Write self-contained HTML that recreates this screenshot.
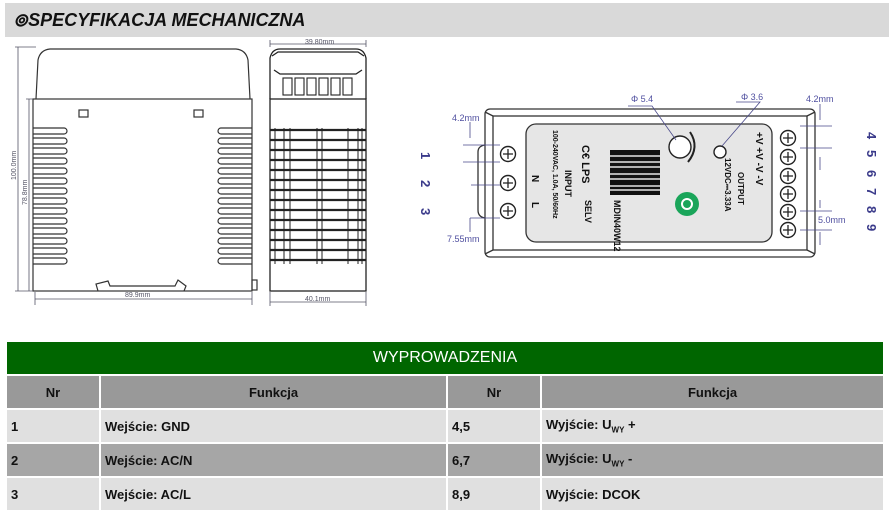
<!DOCTYPE html>
<html><head><meta charset="utf-8"><style>
body{margin:0;width:889px;height:513px;background:#fff;overflow:hidden;font-family:"Liberation Sans",sans-serif;}
.hdr{position:absolute;left:5px;top:3px;width:884px;height:34px;background:#d9d9d9;}
.hdr span{position:absolute;left:8px;top:7px;font:italic bold 18px "Liberation Sans",sans-serif;color:#111;letter-spacing:0}
table{position:absolute;left:7px;top:340px;width:878px;border-collapse:separate;border-spacing:0 2px;font:bold 13px "Liberation Sans",sans-serif;color:#111}
td{padding:0 4px;border-right:2px solid #fff}
.g td{background:#006600;color:#fff;text-align:center;height:32px;font-size:16px;font-weight:normal}
.h td{background:#999;text-align:center;height:32px}
.l td{background:#e0e0e0;height:32px}
.d td{background:#a6a6a6;height:32px}
</style></head><body>
<div class="hdr"><span>⊚SPECYFIKACJA MECHANICZNA</span></div>
<svg width="889" height="330" style="position:absolute;left:0;top:0" font-family="Liberation Sans,sans-serif">
<g fill="none" stroke="#333" stroke-width="1.2">
<path d="M36 99 L38 60 Q40 50 50 49 L236 49 Q246 50 248 60 L250 99"/>
<rect x="33" y="99" width="219" height="192"/>
<rect x="79" y="110" width="9" height="7"/><rect x="194" y="110" width="9" height="7"/>
<path d="M98 291 L96 284 L108 281 L110 286 L175 286 L178 280 L186 286 L184 291"/>
<rect x="252" y="280" width="5" height="10"/>
</g>
<g fill="none" stroke="#333" stroke-width="1.2" id="v">
<path d="M33 128 h31 a3 3 0 0 1 0 6 h-31 M33 138 h31 a3 3 0 0 1 0 6 h-31 M33 148 h31 a3 3 0 0 1 0 6 h-31 M33 158 h31 a3 3 0 0 1 0 6 h-31 M33 168 h31 a3 3 0 0 1 0 6 h-31 M33 178 h31 a3 3 0 0 1 0 6 h-31 M33 188 h31 a3 3 0 0 1 0 6 h-31 M33 198 h31 a3 3 0 0 1 0 6 h-31 M33 208 h31 a3 3 0 0 1 0 6 h-31 M33 218 h31 a3 3 0 0 1 0 6 h-31 M33 228 h31 a3 3 0 0 1 0 6 h-31 M33 238 h31 a3 3 0 0 1 0 6 h-31 M33 248 h31 a3 3 0 0 1 0 6 h-31 M33 258 h31 a3 3 0 0 1 0 6 h-31"/>
</g>
<use href="#v" transform="translate(285 0) scale(-1 1)"/>
<g stroke="#556" stroke-width="0.8" fill="none">
<path d="M15 47 H36 M18 47 V291 M15 291 H33 M26 99 H33 M29 99 V291 M35 292 V305 M252 292 V305 M35 299 H252"/>
<path d="M270 40 V47 M366 40 V47 M270 44 H366 M270 292 V306 M366 292 V306 M270 302 H366"/>
</g>
<g fill="#556" font-size="7"><text x="125" y="297">89.9mm</text><text x="305" y="44">39.80mm</text><text x="305" y="301">40.1mm</text>
<text transform="translate(16 180) rotate(-90)">100.0mm</text><text transform="translate(27 205) rotate(-90)">78.8mm</text></g>
<g fill="none" stroke="#222" stroke-width="1.3">
<path d="M270 99 V58 Q272 49 280 49 H356 Q364 49 366 58 V99"/>
<path d="M272 56 L278 52 H358 L364 56 M274 70 L280 74 H356 L362 70"/>
<rect x="270" y="99" width="96" height="192"/>
<g stroke-width="1.1"><rect x="283" y="78" width="9" height="17"/><rect x="295" y="78" width="9" height="17"/><rect x="307" y="78" width="9" height="17"/><rect x="319" y="78" width="9" height="17"/><rect x="331" y="78" width="9" height="17"/><rect x="343" y="78" width="9" height="17"/></g>
</g>
<g stroke="#222" stroke-width="2.2" font-weight="bold">
<path d="M270 130 H366 M270 140 H366 M270 150 H366 M270 160 H366 M270 170 H366 M270 180 H366 M270 190 H366 M270 200 H366 M270 210 H366 M270 220 H366 M270 230 H366 M270 240 H366 M270 250 H366 M270 260 H366"/>
</g>
<g stroke="#222" stroke-width="1"><path d="M275 128 V264 M284 128 V264 M290 128 V264 M317 128 V264 M322 128 V264 M348 128 V264 M358 128 V264 M362 128 V264"/></g>
<g fill="none" stroke="#333" stroke-width="1.3">
<rect x="485" y="109" width="330" height="148" rx="5"/>
<rect x="493" y="116" width="314" height="134"/>
<path d="M485 112 L493 116 M815 112 L807 116 M485 254 L493 250 M815 254 L807 250"/>
<path d="M485 145 Q478 146 478 152 V210 Q478 217 485 218"/>
</g>
<rect x="526" y="124" width="246" height="118" rx="10" fill="#e6e6e6" stroke="#333" stroke-width="1.3"/>
<g fill="#fff" stroke="#222" stroke-width="1.4">
<circle cx="508" cy="154" r="7.5"/><circle cx="508" cy="183" r="7.5"/><circle cx="508" cy="211" r="7.5"/>
<circle cx="788" cy="138" r="7.5"/><circle cx="788" cy="157" r="7.5"/><circle cx="788" cy="176" r="7.5"/><circle cx="788" cy="194" r="7.5"/><circle cx="788" cy="212" r="7.5"/><circle cx="788" cy="230" r="7.5"/>
<circle cx="680" cy="147" r="11"/><circle cx="720" cy="152" r="6"/>
</g>
<g stroke="#222" stroke-width="1.3">
<path d="M503 154h10M508 149v10M503 183h10M508 178v10M503 211h10M508 206v10"/>
<path d="M783 138h10M788 133v10M783 157h10M788 152v10M783 176h10M788 171v10M783 194h10M788 189v10M783 212h10M788 207v10M783 230h10M788 225v10"/>
</g>
<path d="M690 132 Q700 147 688 162" fill="none" stroke="#222" stroke-width="2"/>
<g fill="#111"><rect x="610" y="150" width="50" height="45"/></g>
<g stroke="#e6e6e6" stroke-width="1.5"><path d="M610 156H660M610 162H660M610 167H660M610 174H660M610 179H660M610 186H660M610 190H660"/></g>
<circle cx="687" cy="204" r="12" fill="#1aa55a"/><circle cx="687" cy="204" r="5" fill="none" stroke="#fff" stroke-width="2"/>
<g fill="#111" font-weight="bold" font-size="11">
<text transform="translate(582 145) rotate(90)">C€ LPS</text>
<text transform="translate(585 200) rotate(90)" font-size="9">SELV</text>
<text transform="translate(565 170) rotate(90)" font-size="9">INPUT</text>
<text transform="translate(553 130) rotate(90)" font-size="7">100-240VAC, 1.0A, 50/60Hz</text>
<text transform="translate(532 175) rotate(90)" font-size="10">N</text><text transform="translate(532 202) rotate(90)" font-size="10">L</text>
<text transform="translate(614 200) rotate(90)" font-size="9">MDIN40W12</text>
<text transform="translate(756 132) rotate(90)" font-size="10">+V +V -V -V</text>
<text transform="translate(738 172) rotate(90)" font-size="8">OUTPUT</text>
<text transform="translate(725 158) rotate(90)" font-size="8">12VDC⎓3.33A</text>
</g>
<g stroke="#4a4a8a" stroke-width="0.8" fill="none">
<path d="M463 145H500M463 162H500M470 122V138M471 185H500M470 218H500M470 218V232M628 106H652L676 140M736 102H760L722 146"/>
<path d="M800 126H832M800 148H832M820 104V120M820 157V170M800 211H832M800 230H832M820 200V208M820 232V245"/>
</g>
<g fill="#5050a0" font-size="9">
<text x="452" y="121">4.2mm</text><text x="447" y="242">7.55mm</text><text x="631" y="102">Φ 5.4</text><text x="741" y="100">Φ 3.6</text><text x="806" y="102">4.2mm</text><text x="818" y="223">5.0mm</text>
</g>
<g fill="#3a3a8a" font-weight="bold" font-size="13">
<text transform="translate(421 152) rotate(90)">1</text><text transform="translate(421 180) rotate(90)">2</text><text transform="translate(421 208) rotate(90)">3</text>
<text transform="translate(867 132) rotate(90)">4</text><text transform="translate(867 150) rotate(90)">5</text><text transform="translate(867 170) rotate(90)">6</text><text transform="translate(867 188) rotate(90)">7</text><text transform="translate(867 206) rotate(90)">8</text><text transform="translate(867 224) rotate(90)">9</text>
</g>
</svg>
<table>
<tr class="g"><td colspan="4">WYPROWADZENIA</td></tr>
<tr class="h"><td style="width:84px">Nr</td><td style="width:337px">Funkcja</td><td style="width:84px">Nr</td><td>Funkcja</td></tr>
<tr class="l"><td>1</td><td>Wejście: GND</td><td>4,5</td><td>Wyjście: U<sub style="font-size:8px">WY</sub> +</td></tr>
<tr class="d"><td>2</td><td>Wejście: AC/N</td><td>6,7</td><td>Wyjście: U<sub style="font-size:8px">WY</sub> -</td></tr>
<tr class="l"><td>3</td><td>Wejście: AC/L</td><td>8,9</td><td>Wyjście: DCOK</td></tr>
</table>
</body></html>
